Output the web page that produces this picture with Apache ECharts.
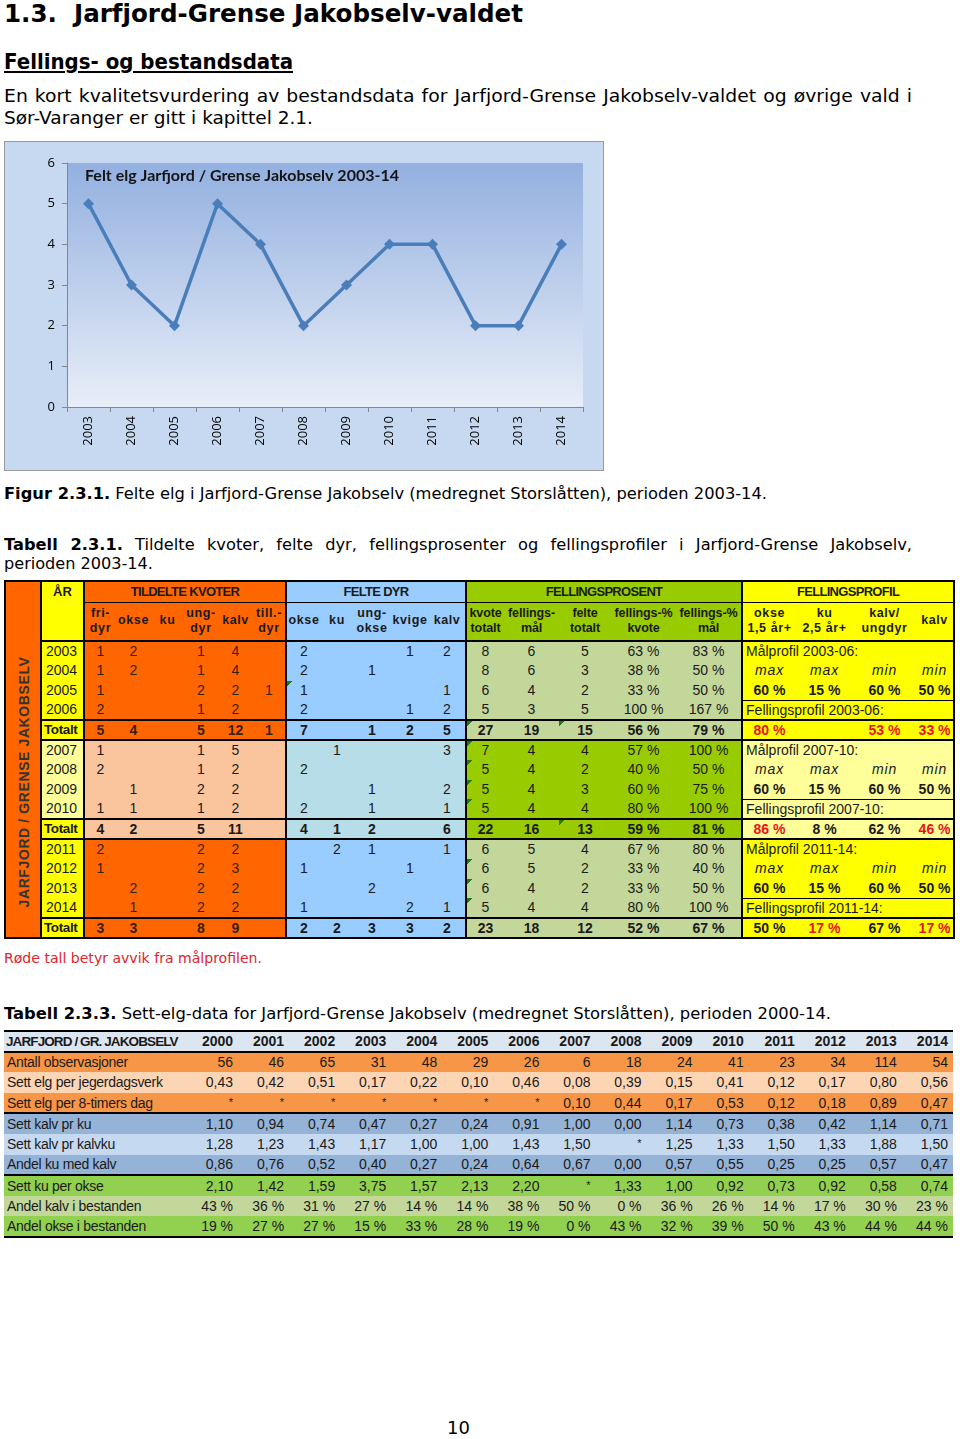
<!DOCTYPE html>
<html><head><meta charset="utf-8">
<script src="https://cdn.jsdelivr.net/npm/echarts@6/dist/echarts.min.js"></script>
<style>
html,body{margin:0;padding:0;background:#fff;}
body{position:relative;width:960px;height:1439px;overflow:hidden;font-family:"DejaVu Sans",sans-serif;color:#000;}
.t{position:absolute;left:4px;white-space:nowrap;line-height:1.15;}
#chart{position:absolute;left:4px;top:141px;width:600px;height:330px;box-sizing:border-box;border:1px solid #9a9a9a;}
table{border-collapse:collapse;table-layout:fixed;font-family:"Liberation Sans",Arial,sans-serif;color:#1a1a1a;}
#t1{position:absolute;left:4px;top:580px;width:949px;font-size:14px;border:2px solid #000;}
#t1 td{padding:0;text-align:center;vertical-align:middle;line-height:1.05;overflow:hidden;white-space:nowrap;}
#t1 .gh{font-weight:bold;font-size:13px;letter-spacing:-0.7px;border-bottom:1px solid #000;}
#t1 .sh{font-weight:bold;font-size:12.5px;letter-spacing:0.6px;border-bottom:2px solid #000;line-height:1.25;}
#t1 .gl{border-left:2px solid #000;}
#t1 .tot{font-weight:bold;border-top:2px solid #000;border-bottom:2px solid #000;}
#t1 .pl{text-align:left;padding-left:3px;}
#t1 .bt{border-top:1px solid #000;}
#t1 .it{font-style:italic;letter-spacing:0.8px;}
#t1 .b{font-weight:bold;}
#t1 .red{color:#e8141c;}
#t1 .tri{background-image:linear-gradient(135deg,#1f7a1f 0,#1f7a1f 4px,transparent 4px);}
#t2{position:absolute;left:4px;top:1030px;width:949px;font-size:14px;border-top:2px solid #000;border-bottom:2px solid #000;}
#t2 td{padding:0 5px 0 0;text-align:right;white-space:nowrap;overflow:hidden;line-height:1;}
#t2 td.lab{text-align:left;padding-left:3px;letter-spacing:-0.3px;}
#t2 .hd td{font-weight:bold;background:#dce6f1;border-bottom:2px solid #000;}
#t2 .sep td{border-bottom:2px solid #000;}
#vlab{position:absolute;left:18px;top:200px;transform:translate(-50%,-50%) rotate(-90deg);font-weight:bold;font-size:14px;color:#333;white-space:nowrap;letter-spacing:0.6px;}
</style></head>
<body>
<div class="t fit" id="h1" data-w="519" style="top:0px;font-size:25px;font-weight:bold;">1.3.&nbsp;&nbsp;Jarfjord-Grense Jakobselv-valdet</div>
<div class="t fit" data-w="289" style="top:50px;font-size:21px;font-weight:bold;text-decoration:underline;">Fellings- og bestandsdata</div>
<div class="t fit" data-w="908" style="top:87px;font-size:17px;word-spacing:1px;">En kort kvalitetsvurdering av bestandsdata for Jarfjord-Grense Jakobselv-valdet og øvrige vald i</div>
<div class="t fit" data-w="309" style="top:109px;font-size:17px;">Sør-Varanger er gitt i kapittel 2.1.</div>
<div id="chart"></div>
<div class="t fit" data-w="763" style="top:485px;font-size:16px;"><b>Figur 2.3.1.</b> Felte elg i Jarfjord-Grense Jakobselv (medregnet Storslåtten), perioden 2003-14.</div>
<div class="t fit" data-w="908" style="top:536px;font-size:16px;word-spacing:7px;"><b>Tabell 2.3.1.</b> Tildelte kvoter, felte dyr, fellingsprosenter og fellingsprofiler i Jarfjord-Grense Jakobselv,</div>
<div class="t fit" data-w="149" style="top:555px;font-size:16px;">perioden 2003-14.</div>
<div id="t1wrap"></div>
<div class="t fit" data-w="258" style="top:950px;font-size:14.5px;color:#e0242c;">Røde tall betyr avvik fra målprofilen.</div>
<div class="t fit" data-w="827" style="top:1005px;font-size:16px;"><b>Tabell 2.3.3.</b> Sett-elg-data for Jarfjord-Grense Jakobselv (medregnet Storslåtten), perioden 2000-14.</div>
<div id="t2wrap"></div>
<div class="t" style="left:447px;top:1418px;font-size:18px;">10</div>
<script>
// ---------- Chart data ----------
const chartTitle = 'Felt elg Jarfjord / Grense Jakobselv 2003-14';
const chartYears = ['2003','2004','2005','2006','2007','2008','2009','2010','2011','2012','2013','2014'];
const feltElg = [5,3,2,5,4,2,3,4,4,2,2,4];

// ---------- Table 2.3.1 data ----------
const t1RowLabels = ['2003','2004','2005','2006','Totalt','2007','2008','2009','2010','Totalt','2011','2012','2013','2014','Totalt'];
const kvoterHead = ['fri-<br>dyr','okse','ku','ung-<br>dyr','kalv','till.-<br>dyr'];
const kvoter = [
 [1,2,null,1,4,null],[1,2,null,1,4,null],[1,null,null,2,2,1],[2,null,null,1,2,null],[5,4,null,5,12,1],
 [1,null,null,1,5,null],[2,null,null,1,2,null],[null,1,null,2,2,null],[1,1,null,1,2,null],[4,2,null,5,11,null],
 [2,null,null,2,2,null],[1,null,null,2,3,null],[null,2,null,2,2,null],[null,1,null,2,2,null],[3,3,null,8,9,null]];
const felteHead = ['okse','ku','ung-<br>okse','kvige','kalv'];
const felte = [
 [2,null,null,1,2],[2,null,1,null,null],[1,null,null,null,1],[2,null,null,1,2],[7,null,1,2,5],
 [null,1,null,null,3],[2,null,null,null,null],[null,null,1,null,2],[2,null,1,null,1],[4,1,2,null,6],
 [null,2,1,null,1],[1,null,null,1,null],[null,null,2,null,null],[1,null,null,2,1],[2,2,3,3,2]];
const prosentHead = ['kvote<br>totalt','fellings-<br>mål','felte<br>totalt','fellings-%<br>kvote','fellings-%<br>mål'];
const prosent = [
 [8,6,5,63,83],[8,6,3,38,50],[6,4,2,33,50],[5,3,5,100,167],[27,19,15,56,79],
 [7,4,4,57,100],[5,4,2,40,50],[5,4,3,60,75],[5,4,4,80,100],[22,16,13,59,81],
 [6,5,4,67,80],[6,5,2,33,40],[6,4,2,33,50],[5,4,4,80,100],[23,18,12,52,67]];
const profilHead = ['okse<br>1,5 år+','ku<br>2,5 år+','kalv/<br>ungdyr','kalv'];
const periods = ['2003-06','2007-10','2011-14'];
const maalType = ['max','max','min','min'];
const maalPct = [[60,15,60,50],[60,15,60,50],[60,15,60,50]];
const profilPct = [[80,null,53,33],[86,8,62,46],[50,17,67,17]];
const avvik = [[1,0,1,1],[1,0,0,1],[0,1,0,1]];

// ---------- Table 2.3.3 data ----------
const t2Head = 'JARFJORD / GR. JAKOBSELV';
const t2Years = ['2000','2001','2002','2003','2004','2005','2006','2007','2008','2009','2010','2011','2012','2013','2014'];
const t2Labels = ['Antall observasjoner','Sett elg per jegerdagsverk','Sett elg per 8-timers dag','Sett kalv pr ku','Sett kalv pr kalvku','Andel ku med kalv','Sett ku per okse','Andel kalv i bestanden','Andel okse i bestanden'];
const antallObs = [56,46,65,31,48,29,26,6,18,24,41,23,34,114,54];
const settJegerdag = [0.43,0.42,0.51,0.17,0.22,0.10,0.46,0.08,0.39,0.15,0.41,0.12,0.17,0.80,0.56];
const sett8timer = [null,null,null,null,null,null,null,0.10,0.44,0.17,0.53,0.12,0.18,0.89,0.47];
const kalvPrKu = [1.10,0.94,0.74,0.47,0.27,0.24,0.91,1.00,0.00,1.14,0.73,0.38,0.42,1.14,0.71];
const kalvPrKalvku = [1.28,1.23,1.43,1.17,1.00,1.00,1.43,1.50,null,1.25,1.33,1.50,1.33,1.88,1.50];
const andelKuKalv = [0.86,0.76,0.52,0.40,0.27,0.24,0.64,0.67,0.00,0.57,0.55,0.25,0.25,0.57,0.47];
const kuPerOkse = [2.10,1.42,1.59,3.75,1.57,2.13,2.20,null,1.33,1.00,0.92,0.73,0.92,0.58,0.74];
const andelKalv = [43,36,31,27,14,14,38,50,0,36,26,14,17,30,23];
const andelOkse = [19,27,27,15,33,28,19,0,43,32,39,50,43,44,44];

// ---------- Build table 2.3.1 ----------
(function(){
 const C={orange:'#ff6600',peach:'#fac59c',yel:'#ffff00',lyel:'#ffff99',blue:'#99ccff',lblue:'#b7dde8',olive:'#c4d79b',green:'#99cc00'};
 const widths=[36,43, 32,35,33,34,35,33, 35,32,38,38,37, 38,55,52,65,66, 54,57,63,38];
 const tri={'2-f0':1,'4-p0':1,'4-p2':1,'5-p0':1,'6-p0':1,'7-p0':1,'8-p0':1,'9-p2':1,'11-p0':1,'12-p0':1,'13-p0':1};
 const v=x=>x==null?'':x;
 let h='<table id="t1"><colgroup>'+widths.map(w=>'<col style="width:'+w+'px">').join('')+'</colgroup>';
 h+='<tr style="height:21px"><td rowspan="17" style="background:'+C.orange+';position:relative;vertical-align:top"><div id="vlab">JARFJORD / GRENSE JAKOBSELV</div></td>';
 h+='<td rowspan="2" class="gl" style="background:'+C.yel+';vertical-align:top;font-weight:bold;font-size:13px;padding-top:3px;border-bottom:2px solid #000">ÅR</td>';
 h+='<td colspan="6" class="gh gl" style="background:'+C.orange+'">TILDELTE KVOTER</td>';
 h+='<td colspan="5" class="gh gl" style="background:'+C.blue+'">FELTE DYR</td>';
 h+='<td colspan="5" class="gh gl" style="background:'+C.green+'">FELLINGSPROSENT</td>';
 h+='<td colspan="4" class="gh gl" style="background:'+C.yel+'">FELLINGSPROFIL</td></tr>';
 h+='<tr style="height:39px">';
 kvoterHead.forEach((s,i)=>h+='<td class="sh'+(i==0?' gl':'')+'" style="background:'+C.orange+'">'+s+'</td>');
 felteHead.forEach((s,i)=>h+='<td class="sh'+(i==0?' gl':'')+'" style="background:'+C.blue+'">'+s+'</td>');
 prosentHead.forEach((s,i)=>h+='<td class="sh'+(i==0?' gl':'')+'" style="background:'+C.green+';letter-spacing:-0.1px">'+s+'</td>');
 profilHead.forEach((s,i)=>h+='<td class="sh'+(i==0?' gl':'')+'" style="background:'+C.yel+'">'+s+'</td>');
 h+='</tr>';
 for(let r=0;r<15;r++){
  const p=Math.floor(r/5), i=r%5, tot=i==4, lt=p==1;
  const tc=tot?' tot':'';
  h+='<tr style="height:19.8px">';
  h+='<td class="gl'+tc+'" style="background:'+(tot||!lt?C.yel:C.lyel)+';text-align:left;padding-left:'+(tot?2:4)+'px;'+(tot?'font-size:13.5px;letter-spacing:-0.4px':'')+'">'+t1RowLabels[r]+'</td>';
  kvoter[r].forEach((x,j)=>h+='<td class="'+(j==0?'gl':'')+tc+'" style="background:'+(lt?C.peach:C.orange)+';color:'+(lt?'#1a1a1a':'#3a1f0a')+'">'+v(x)+'</td>');
  felte[r].forEach((x,j)=>h+='<td class="'+(j==0?'gl':'')+tc+(tri[r+'-f'+j]?' tri':'')+'" style="background-color:'+(lt?C.lblue:C.blue)+'">'+v(x)+'</td>');
  prosent[r].forEach((x,j)=>h+='<td class="'+(j==0?'gl':'')+tc+(tri[r+'-p'+j]?' tri':'')+'" style="background-color:'+(lt?C.green:C.olive)+'">'+(j>=3?x+' %':v(x))+'</td>');
  const pb=lt?C.lyel:C.yel;
  if(i==0) h+='<td colspan="4" class="gl pl'+'" style="background:'+pb+'">Målprofil '+periods[p]+':</td>';
  else if(i==1) maalType.forEach((s,j)=>h+='<td class="it'+(j==0?' gl':'')+'" style="background:'+pb+'">'+s+'</td>');
  else if(i==2) maalPct[p].forEach((x,j)=>h+='<td class="b'+(j==0?' gl':'')+'" style="background:'+pb+'">'+x+' %</td>');
  else if(i==3) h+='<td colspan="4" class="gl pl bt" style="background:'+pb+'">Fellingsprofil '+periods[p]+':</td>';
  else profilPct[p].forEach((x,j)=>h+='<td class="'+(j==0?'gl':'')+tc+(avvik[p][j]?' red':'')+'" style="background:'+pb+'">'+(x==null?'':x+' %')+'</td>');
  h+='</tr>';
 }
 h+='</table>';
 document.getElementById('t1wrap').innerHTML=h;
})();

// ---------- Build table 2.3.3 ----------
(function(){
 const rows=[antallObs,settJegerdag,sett8timer,kalvPrKu,kalvPrKalvku,andelKuKalv,kuPerOkse,andelKalv,andelOkse];
 const kinds=['int','dec','dec','dec','dec','dec','dec','pct','pct'];
 const bgs=['#f79646','#fcd5b4','#f79646','#95b3d7','#c5d9f1','#95b3d7','#92d050','#c4d79b','#92d050'];
 const fmt=(x,k)=>x==null?'<span style="font-size:11px;position:relative;top:-2px">*</span>':k=='int'?String(x):k=='pct'?x+' %':x.toFixed(2).replace('.',',');
 let h='<table id="t2"><colgroup><col style="width:183px">'+t2Years.map(()=>'<col style="width:51.07px">').join('')+'</colgroup>';
 h+='<tr class="hd" style="height:20.6px"><td class="lab" style="letter-spacing:-0.9px;font-size:13.5px;padding-left:2px">'+t2Head+'</td>'+t2Years.map(y=>'<td>'+y+'</td>').join('')+'</tr>';
 rows.forEach((row,r)=>{
  h+='<tr class="'+(r==2||r==5?'sep':'')+'" style="height:20.6px;background:'+bgs[r]+'"><td class="lab">'+t2Labels[r]+'</td>'+row.map(x=>'<td>'+fmt(x,kinds[r])+'</td>').join('')+'</tr>';
 });
 h+='</table>';
 document.getElementById('t2wrap').innerHTML=h;
})();

// ---------- Fit text widths ----------
function fitAll(){
 document.querySelectorAll('.fit').forEach(el=>{
  const target=+el.dataset.w;
  el.style.transform='';
  const w=el.getBoundingClientRect().width;
  el.style.transformOrigin='0 0';
  el.style.transform='scaleX('+(target/w)+')';
 });
}
fitAll();
if(document.fonts&&document.fonts.ready) document.fonts.ready.then(fitAll);

// ---------- Chart ----------
const chart=echarts.init(document.getElementById('chart'),null,{renderer:'canvas'});
chart.setOption({
 animation:false,
 backgroundColor:'#c6d9f1',
 title:{text:chartTitle,left:75,top:21,textStyle:{fontFamily:'Lato',fontWeight:'bold',fontSize:16,color:'#141414'}},
 grid:{left:62,right:20,top:21,bottom:63,show:true,borderWidth:0,
  backgroundColor:new echarts.graphic.LinearGradient(0,0,0,1,[{offset:0,color:'#93b0e0'},{offset:1,color:'#e8eef8'}])},
 xAxis:{type:'category',data:chartYears,boundaryGap:true,
  axisLine:{lineStyle:{color:'#868686',width:1}},
  axisTick:{show:true,length:5,alignWithLabel:false,lineStyle:{color:'#868686'}},
  axisLabel:{rotate:90,fontSize:13,color:'#000',margin:9,fontFamily:'Open Sans'}},
 yAxis:{type:'value',min:0,max:6,interval:1,
  axisLine:{show:true,lineStyle:{color:'#868686'}},
  axisTick:{show:true,length:5,lineStyle:{color:'#868686'}},
  splitLine:{show:false},
  axisLabel:{fontSize:13,color:'#000',margin:12,fontFamily:'Open Sans'}},
 series:[{type:'line',data:feltElg,symbol:'diamond',symbolSize:11,
  lineStyle:{width:3.5,color:'#4a7ebb'},itemStyle:{color:'#4a7ebb'}}]
});
</script>
</body></html>
